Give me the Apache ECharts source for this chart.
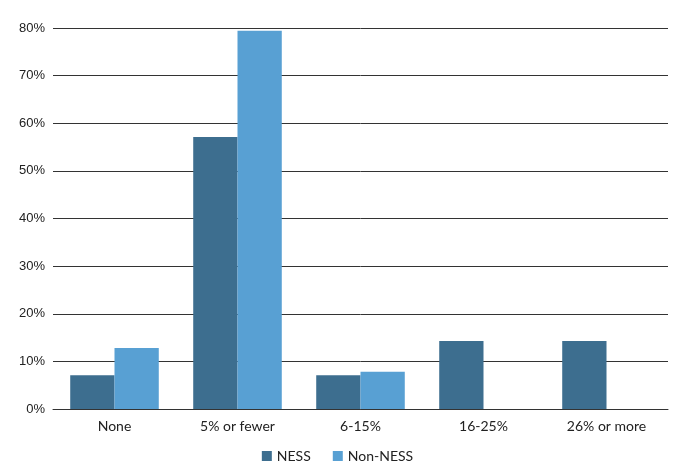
<!DOCTYPE html>
<html><head><meta charset="utf-8">
<script src="https://cdn.jsdelivr.net/npm/echarts@6/dist/echarts.min.js"></script>
<style>html,body{margin:0;padding:0;background:#fff}#c{width:675px;height:474px}</style>
</head><body><div id="c"></div>
<script>
const categories = ['None', '5% or fewer', '6-15%', '16-25%', '26% or more'];
const ness = [7.1, 57.1, 7.1, 14.3, 14.3];
const nonNess = [12.8, 79.4, 7.8, 0, 0];
const yTicks = [0, 10, 20, 30, 40, 50, 60, 70, 80];

const chart = echarts.init(document.getElementById('c'));
chart.setOption({
  animation: false,
  grid: { left: 53, right: 7, top: 28, bottom: 65 },
  legend: {
    bottom: 6, left: 'center', itemWidth: 10, itemHeight: 10, itemGap: 22,
    icon: 'rect',
    textStyle: { fontFamily: 'Lato', fontSize: 14, color: '#222' },
    data: ['NESS', 'Non-NESS']
  },
  xAxis: {
    type: 'category', data: categories,
    axisLine: { lineStyle: { color: '#333', width: 1 } },
    axisTick: { show: false },
    axisLabel: { fontFamily: 'Lato', fontSize: 14, color: '#222', margin: 10 }
  },
  yAxis: {
    type: 'value', min: 0, max: 80, interval: 10,
    axisLine: { show: false }, axisTick: { show: false },
    axisLabel: { fontFamily: 'Liberation Sans', fontSize: 13, color: '#222', margin: 8,
      formatter: v => yTicks.includes(v) ? v + '%' : '' },
    splitLine: { lineStyle: { color: '#333', width: 1 } }
  },
  series: [
    { name: 'NESS', type: 'bar', data: ness, barGap: '0%', barCategoryGap: '28%',
      itemStyle: { color: '#3d6e8f' } },
    { name: 'Non-NESS', type: 'bar', data: nonNess, barGap: '0%', barCategoryGap: '28%',
      itemStyle: { color: '#58a0d3' } }
  ]
});
</script></body></html>
